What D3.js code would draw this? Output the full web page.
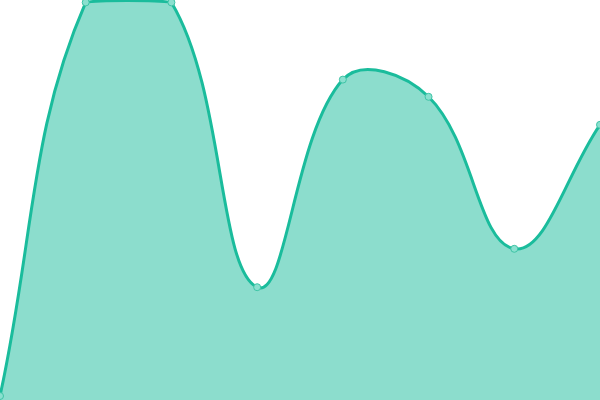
<!DOCTYPE html>
<html>
<head>
<meta charset="utf-8">
<script src="https://cdn.jsdelivr.net/npm/d3@7"></script>
<style>
  html, body { margin: 0; padding: 0; background: #fff; }
  svg { display: block; }
</style>
</head>
<body>
<div id="chart"></div>
<script>
// Chart data
const categories = ["1", "2", "3", "4", "5", "6", "7", "8"];
const values = [1, 99.4, 99.4, 28.2, 80.1, 75.8, 37.8, 68.8];

const width = 600;
const height = 400;

const lineColor = "#1abc9c";
const fillColor = "rgba(26, 188, 156, 0.5)";

/**
 * Curve factory that mimics a tension spline with control points
 * capped to the drawing area.
 */
function tensionCurve(tension, left, top, right, bottom) {
    const cap = (v, lo, hi) => Math.max(lo, Math.min(hi, v));
    return function(context) {
        return {
            areaStart() { this._line = 0; },
            areaEnd() { this._line = NaN; },
            lineStart() { this._pts = []; },
            point(x, y) { this._pts.push([+x, +y]); },
            lineEnd() {
                const p = this._pts, n = p.length;
                if (n) {
                    // control points
                    const cps = p.map((cur, i) => {
                        const prev = p[Math.max(i - 1, 0)];
                        const next = p[Math.min(i + 1, n - 1)];
                        const d01 = Math.hypot(cur[0] - prev[0], cur[1] - prev[1]);
                        const d12 = Math.hypot(next[0] - cur[0], next[1] - cur[1]);
                        let s01 = d01 / (d01 + d12), s12 = d12 / (d01 + d12);
                        if (isNaN(s01)) s01 = 0;
                        if (isNaN(s12)) s12 = 0;
                        const fa = tension * s01, fb = tension * s12;
                        const dx = next[0] - prev[0], dy = next[1] - prev[1];
                        return {
                            px: cap(cur[0] - fa * dx, left, right), py: cap(cur[1] - fa * dy, top, bottom),
                            nx: cap(cur[0] + fb * dx, left, right), ny: cap(cur[1] + fb * dy, top, bottom)
                        };
                    });
                    if (this._line) context.lineTo(p[0][0], p[0][1]);
                    else context.moveTo(p[0][0], p[0][1]);
                    for (let i = 1; i < n; i++) {
                        const a = cps[i - 1], b = cps[i];
                        context.bezierCurveTo(a.nx, a.ny, b.px, b.py, p[i][0], p[i][1]);
                    }
                }
                if (this._line || (this._line !== 0 && n === 1)) context.closePath();
                this._line = 1 - this._line;
            }
        };
    };
}

const svg = d3.select("#chart")
    .append("svg")
    .attr("width", width)
    .attr("height", height);

// Scales
const x = d3.scalePoint()
    .domain(categories)
    .range([0, width]);

const y = d3.scaleLinear()
    .domain([0, 100])
    .range([height, 0]);

const data = categories.map((c, i) => ({ cat: c, value: values[i] }));
const curve = tensionCurve(0.4, 0, 0, width, height);

// Area fill
svg.append("path")
    .datum(data)
    .attr("fill", fillColor)
    .attr("d", d3.area()
        .x(d => x(d.cat))
        .y0(height)
        .y1(d => y(d.value))
        .curve(curve)
    );

// Line
svg.append("path")
    .datum(data)
    .attr("fill", "none")
    .attr("stroke", lineColor)
    .attr("stroke-width", 3)
    .attr("d", d3.line()
        .x(d => x(d.cat))
        .y(d => y(d.value))
        .curve(curve)
    );

// Points
svg.selectAll(".pt")
    .data(data)
    .enter()
    .append("circle")
    .attr("class", "pt")
    .attr("cx", d => x(d.cat))
    .attr("cy", d => y(d.value))
    .attr("r", 3.5)
    .attr("fill", "#8ae0cf")
    .attr("stroke", "#3fc4a6")
    .attr("stroke-width", 1);
</script>
</body>
</html>
